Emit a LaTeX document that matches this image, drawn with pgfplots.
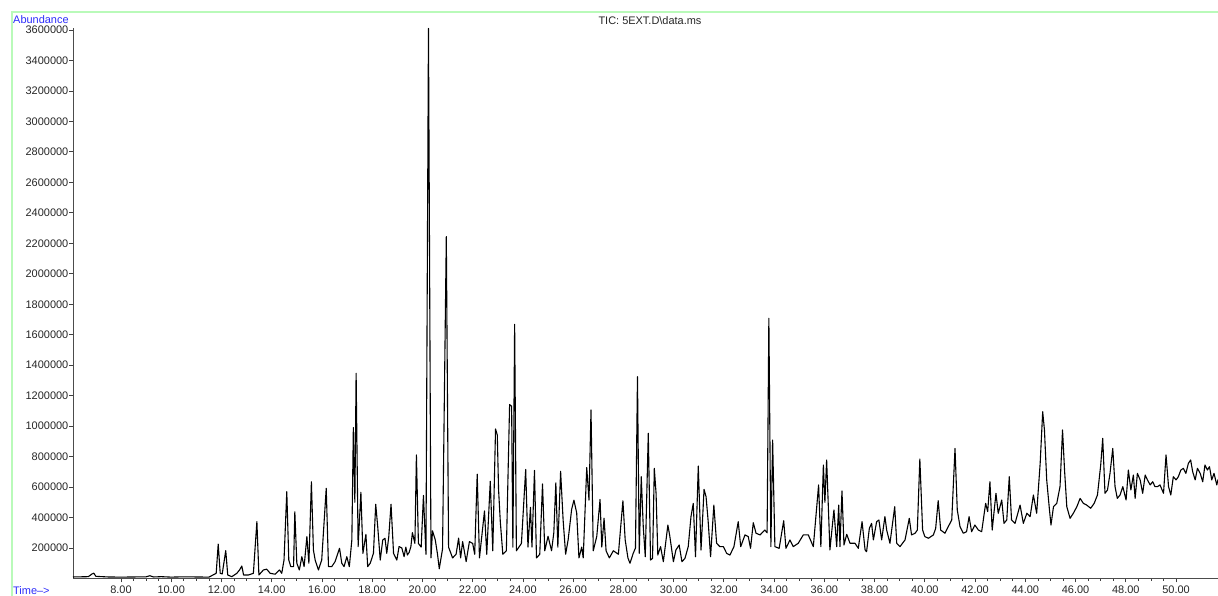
\documentclass[border=0pt]{standalone}
\usepackage{fontspec}
\setmainfont{Liberation Sans}
\usepackage{pgfplots}
\pgfplotsset{compat=1.18}
\usepackage{pgfplotstable}
\definecolor{framegreen}{RGB}{185,250,185}
\definecolor{labblue}{RGB}{45,45,250}
\pgfplotstableread{
t v
6.09 10000
6.70 12000
6.85 30000
6.92 35000
7.00 14000
7.50 10000
8.00 9000
8.50 10000
9.00 11000
9.15 18000
9.30 10000
9.60 12000
10.00 9000
10.50 11000
11.00 10000
11.50 9000
11.79 34000
11.87 226000
11.95 34000
12.03 30000
12.17 183000
12.25 23000
12.41 12000
12.61 34000
12.72 56000
12.81 82000
12.88 23000
13.07 23000
13.27 34000
13.41 373000
13.49 23000
13.67 56000
13.80 61000
13.94 34000
14.14 28000
14.31 56000
14.40 34000
14.49 121000
14.60 570000
14.68 121000
14.76 78000
14.87 78000
14.92 438000
15.00 100000
15.10 56000
15.20 143000
15.29 78000
15.40 275000
15.48 100000
15.58 635000
15.66 187000
15.73 121000
15.86 56000
15.99 121000
16.17 592000
16.26 78000
16.39 78000
16.52 110000
16.70 198000
16.79 100000
16.88 78000
16.99 143000
17.09 78000
17.19 253000
17.25 990000
17.31 500000
17.36 1347000
17.44 209000
17.55 566000
17.63 165000
17.75 290000
17.82 78000
17.92 100000
18.05 165000
18.14 487000
18.22 340000
18.32 121000
18.42 253000
18.51 264000
18.58 165000
18.66 275000
18.75 487000
18.85 165000
18.98 121000
19.07 210000
19.18 200000
19.27 143000
19.34 206000
19.40 154000
19.47 171000
19.54 209000
19.60 301000
19.70 230000
19.76 811000
19.84 230000
19.95 206000
20.04 545000
20.14 159000
20.24 3610000
20.34 135000
20.40 313000
20.51 254000
20.60 159000
20.67 64000
20.80 194000
20.95 2244000
21.04 206000
21.20 135000
21.34 159000
21.44 265000
21.52 135000
21.60 242000
21.74 111000
21.87 242000
22.00 230000
22.08 159000
22.18 685000
22.27 135000
22.47 443000
22.56 159000
22.70 638000
22.80 182000
22.91 981000
22.98 941000
23.03 585000
23.10 372000
23.20 159000
23.34 182000
23.47 1142000
23.55 1130000
23.60 206000
23.67 1668000
23.74 182000
23.94 230000
24.11 716000
24.20 206000
24.30 467000
24.36 206000
24.46 709000
24.54 135000
24.67 159000
24.78 621000
24.87 182000
25.00 277000
25.14 182000
25.23 301000
25.31 628000
25.39 206000
25.50 704000
25.60 384000
25.70 159000
25.80 254000
25.94 455000
26.03 514000
26.14 431000
26.23 135000
26.34 206000
26.40 135000
26.54 728000
26.63 514000
26.71 1107000
26.80 182000
26.94 277000
27.07 519000
27.14 206000
27.23 396000
27.31 182000
27.44 135000
27.60 182000
27.80 159000
27.98 510000
28.07 254000
28.18 135000
28.26 100000
28.39 165000
28.48 200000
28.56 1325000
28.63 165000
28.71 668000
28.79 340000
28.87 143000
28.99 953000
29.08 121000
29.16 132000
29.23 723000
29.30 559000
29.37 154000
29.48 209000
29.59 110000
29.77 351000
29.85 275000
29.99 110000
30.09 187000
30.22 220000
30.33 110000
30.45 132000
30.58 209000
30.69 406000
30.78 493000
30.87 143000
30.98 738000
31.09 187000
31.21 585000
31.29 537000
31.37 384000
31.47 143000
31.60 482000
31.71 231000
31.84 209000
31.98 209000
32.11 165000
32.24 154000
32.40 209000
32.57 373000
32.67 209000
32.84 286000
32.97 275000
33.06 198000
33.17 366000
33.28 297000
33.44 286000
33.63 318000
33.72 300000
33.79 1708000
33.87 209000
33.94 909000
34.03 209000
34.20 198000
34.38 379000
34.47 198000
34.63 253000
34.76 209000
34.96 231000
35.16 286000
35.36 286000
35.56 209000
35.77 614000
35.86 209000
35.96 745000
36.02 500000
36.09 778000
36.22 187000
36.38 450000
36.49 209000
36.57 482000
36.62 209000
36.70 575000
36.78 220000
36.89 290000
37.02 231000
37.22 231000
37.35 198000
37.50 373000
37.62 187000
37.68 176000
37.79 329000
37.88 362000
37.95 253000
38.08 373000
38.17 384000
38.28 253000
38.41 406000
38.48 318000
38.61 231000
38.80 471000
38.88 231000
39.01 209000
39.21 253000
39.38 395000
39.47 286000
39.61 297000
39.70 318000
39.80 784000
39.91 318000
40.00 275000
40.14 264000
40.34 286000
40.43 329000
40.53 511000
40.63 318000
40.80 297000
40.93 340000
41.07 384000
41.20 854000
41.29 450000
41.40 340000
41.53 297000
41.66 307000
41.76 406000
41.86 307000
41.99 351000
42.13 318000
42.26 307000
42.42 493000
42.50 439000
42.59 635000
42.68 318000
42.83 559000
42.92 428000
43.06 515000
43.15 362000
43.26 384000
43.36 668000
43.45 384000
43.59 362000
43.79 482000
43.92 362000
44.06 428000
44.19 406000
44.32 548000
44.45 428000
44.59 756000
44.69 1095000
44.76 975000
44.85 647000
44.96 450000
45.02 351000
45.12 471000
45.25 493000
45.38 603000
45.48 975000
45.56 712000
45.65 471000
45.78 395000
45.91 428000
46.05 471000
46.18 526000
46.31 493000
46.44 482000
46.60 461000
46.74 493000
46.87 548000
47.00 745000
47.08 920000
47.17 559000
47.27 581000
47.37 690000
47.48 854000
47.57 603000
47.66 526000
47.77 548000
47.88 603000
48.01 515000
48.10 712000
48.20 581000
48.30 679000
48.37 526000
48.46 690000
48.57 647000
48.67 559000
48.77 679000
48.86 647000
48.97 614000
49.07 635000
49.16 603000
49.26 603000
49.36 614000
49.50 559000
49.60 811000
49.70 603000
49.79 548000
49.89 668000
50.00 647000
50.09 668000
50.19 712000
50.29 723000
50.39 690000
50.49 756000
50.58 778000
50.66 701000
50.76 647000
50.85 723000
50.96 690000
51.06 635000
51.15 745000
51.25 712000
51.33 734000
51.42 647000
51.51 690000
51.62 614000
51.67 650000
}\tic
\begin{document}
\begin{tikzpicture}[x=1bp,y=1bp]
\useasboundingbox (0,0) rectangle (1218,596);
\draw[framegreen, line width=1.6bp] (12,0) -- (12,584) -- (1218,584);
\node[anchor=base west, inner sep=0pt, text=labblue, font=\fontsize{11}{12}\selectfont] at (13,572) {Abundance};
\node[anchor=base west, inner sep=0pt, text=labblue, font=\fontsize{11}{12}\selectfont] at (13,1.5) {Time-->};
\node[anchor=base, inner sep=0pt, text=black!85, font=\fontsize{11}{12}\selectfont] at (650,571) {TIC: 5EXT.D\textbackslash data.ms};
\begin{axis}[
  at={(73bp,17.5bp)}, anchor=south west,
  scale only axis, width=1145bp, height=550.5bp,
  xmin=6.09, xmax=51.67, ymin=0, ymax=3613000,
  axis x line=bottom, axis y line=left,
  axis line style={-, black!70, line width=1bp},
  tick align=outside,
  major tick length=4bp, minor tick length=2.5bp,
  tick style={black!75, line width=0.8bp},
  xtick={8,10,...,50},
  minor x tick num=3,
  xticklabels={8.00,10.00,12.00,14.00,16.00,18.00,20.00,22.00,24.00,26.00,28.00,30.00,32.00,34.00,36.00,38.00,40.00,42.00,44.00,46.00,48.00,50.00},
  ytick={200000,400000,600000,800000,1000000,1200000,1400000,1600000,1800000,2000000,2200000,2400000,2600000,2800000,3000000,3200000,3400000,3600000},
  yticklabels={200000,400000,600000,800000,1000000,1200000,1400000,1600000,1800000,2000000,2200000,2400000,2600000,2800000,3000000,3200000,3400000,3600000},
  scaled y ticks=false,
  /pgf/number format/assume math mode=true,
  tick label style={font=\fontsize{11}{12}\selectfont, text=black!85, inner sep=0pt},
  xticklabel style={anchor=north, yshift=-3bp},
  yticklabel style={anchor=east, xshift=-0.5bp},
  clip=false,
]
\addplot[black, line width=1.1bp, line join=round] table[x=t, y=v] {\tic};
\end{axis}
\end{tikzpicture}
\end{document}
